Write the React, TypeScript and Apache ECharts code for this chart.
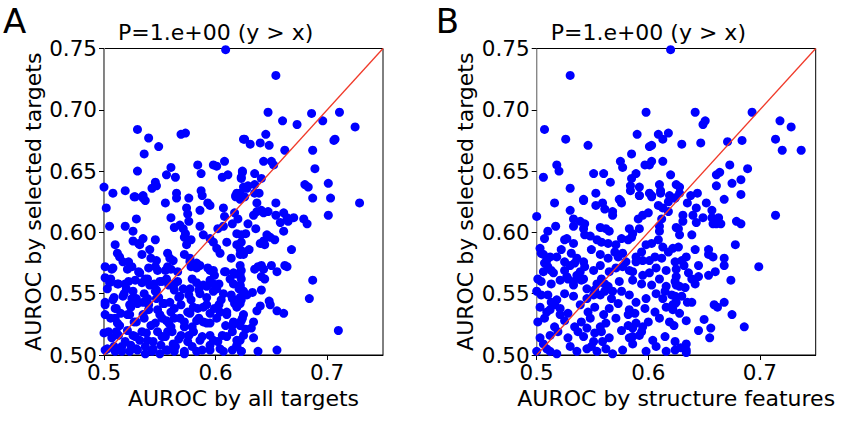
import React, { useEffect, useRef } from "react";
import * as echarts from "echarts";

// Panel A: AUROC by all targets (x) vs AUROC by selected targets (y)
const panelAUpper: number[][] = [
  [0.609, 0.749], [0.530, 0.684], [0.540, 0.677], [0.549, 0.670], [0.536, 0.664],
  [0.569, 0.680], [0.573, 0.681], [0.625, 0.676], [0.530, 0.650], [0.560, 0.653],
  [0.556, 0.647], [0.564, 0.645], [0.546, 0.641], [0.547, 0.638], [0.543, 0.636],
  [0.584, 0.655], [0.587, 0.648], [0.598, 0.655], [0.601, 0.654], [0.608, 0.658],
  [0.606, 0.645], [0.611, 0.647], [0.624, 0.649], [0.623, 0.644], [0.625, 0.637],
  [0.500, 0.637], [0.508, 0.632], [0.519, 0.634], [0.527, 0.629], [0.535, 0.630],
  [0.565, 0.632], [0.587, 0.634], [0.588, 0.630], [0.619, 0.632], [0.618, 0.630],
];
const panelAUpperRight: number[][] = [
  [0.654, 0.728], [0.647, 0.698], [0.686, 0.697], [0.711, 0.698], [0.660, 0.691],
  [0.673, 0.688], [0.696, 0.691], [0.725, 0.686], [0.626, 0.676], [0.631, 0.672],
  [0.645, 0.680], [0.640, 0.673], [0.648, 0.671], [0.662, 0.667], [0.687, 0.667],
  [0.706, 0.675], [0.707, 0.676], [0.643, 0.658], [0.650, 0.658], [0.652, 0.655],
  [0.689, 0.652], [0.624, 0.650], [0.623, 0.645], [0.635, 0.648], [0.641, 0.644],
  [0.629, 0.638], [0.628, 0.636], [0.635, 0.639], [0.635, 0.632], [0.639, 0.632],
  [0.680, 0.639], [0.683, 0.637], [0.701, 0.640], [0.687, 0.628], [0.703, 0.628],
  [0.622, 0.632], [0.626, 0.629],
];
const panelALowerRight: number[][] = [
  [0.729, 0.624], [0.654, 0.624], [0.637, 0.624], [0.634, 0.614], [0.637, 0.617],
  [0.641, 0.618], [0.643, 0.616], [0.647, 0.617], [0.654, 0.614], [0.661, 0.616],
  [0.664, 0.612], [0.665, 0.609], [0.658, 0.608], [0.670, 0.612], [0.679, 0.611],
  [0.682, 0.607], [0.701, 0.614], [0.629, 0.607], [0.636, 0.603], [0.661, 0.601],
  [0.623, 0.598], [0.627, 0.599], [0.646, 0.598], [0.649, 0.596], [0.653, 0.594],
  [0.640, 0.591], [0.644, 0.590], [0.643, 0.593], [0.668, 0.586], [0.630, 0.586],
  [0.625, 0.582], [0.622, 0.586], [0.635, 0.570], [0.638, 0.572], [0.641, 0.573],
  [0.643, 0.570], [0.650, 0.573], [0.655, 0.568], [0.662, 0.573], [0.664, 0.572],
  [0.622, 0.573], [0.623, 0.569], [0.641, 0.564], [0.644, 0.562], [0.623, 0.562],
  [0.687, 0.561], [0.622, 0.556], [0.623, 0.553], [0.625, 0.551], [0.628, 0.549],
  [0.633, 0.551], [0.641, 0.553], [0.684, 0.546], [0.622, 0.542], [0.648, 0.544],
  [0.649, 0.541], [0.640, 0.540], [0.637, 0.536], [0.655, 0.536], [0.661, 0.534],
  [0.625, 0.533], [0.634, 0.527], [0.623, 0.528], [0.627, 0.521], [0.632, 0.522],
  [0.710, 0.520], [0.634, 0.514], [0.623, 0.503], [0.638, 0.503], [0.655, 0.504],
];
const panelALowerLeft: number[][] = [
  [0.528, 0.629], [0.535, 0.628], [0.537, 0.626], [0.555, 0.624], [0.565, 0.628],
  [0.576, 0.628], [0.593, 0.624], [0.595, 0.622], [0.618, 0.629], [0.622, 0.627],
  [0.502, 0.620], [0.574, 0.620], [0.575, 0.615], [0.586, 0.618], [0.607, 0.620],
  [0.608, 0.613], [0.560, 0.612], [0.529, 0.611], [0.617, 0.616], [0.505, 0.605],
  [0.519, 0.605], [0.526, 0.601], [0.563, 0.604], [0.568, 0.606], [0.571, 0.603],
  [0.573, 0.599], [0.576, 0.609], [0.586, 0.605], [0.602, 0.603], [0.607, 0.605],
  [0.615, 0.607], [0.620, 0.611], [0.619, 0.599], [0.526, 0.593], [0.531, 0.591],
  [0.535, 0.595], [0.546, 0.594], [0.572, 0.596], [0.578, 0.594], [0.589, 0.598],
  [0.595, 0.595], [0.598, 0.592], [0.610, 0.592], [0.510, 0.590], [0.619, 0.590],
  [0.623, 0.592], [0.512, 0.583], [0.514, 0.580], [0.532, 0.590], [0.534, 0.582],
  [0.541, 0.586], [0.542, 0.579], [0.547, 0.577], [0.557, 0.583], [0.559, 0.579],
  [0.562, 0.577], [0.572, 0.582], [0.574, 0.590], [0.577, 0.579], [0.601, 0.587],
  [0.604, 0.583], [0.614, 0.579], [0.622, 0.582], [0.625, 0.584], [0.501, 0.572],
  [0.508, 0.571], [0.517, 0.576], [0.522, 0.576], [0.525, 0.572], [0.532, 0.567],
  [0.540, 0.571], [0.546, 0.572], [0.555, 0.569], [0.557, 0.572], [0.566, 0.568],
  [0.577, 0.576], [0.578, 0.572], [0.583, 0.575], [0.586, 0.573], [0.593, 0.571],
  [0.598, 0.569], [0.599, 0.565], [0.608, 0.568], [0.616, 0.567], [0.622, 0.565],
  [0.501, 0.563], [0.505, 0.559], [0.513, 0.558], [0.519, 0.558], [0.520, 0.554],
  [0.526, 0.552], [0.534, 0.559], [0.537, 0.562], [0.541, 0.557], [0.547, 0.553],
  [0.550, 0.560], [0.556, 0.562], [0.559, 0.558], [0.563, 0.558], [0.571, 0.554],
  [0.577, 0.554], [0.583, 0.559], [0.586, 0.550], [0.592, 0.556], [0.598, 0.558],
  [0.601, 0.554], [0.616, 0.558], [0.622, 0.557], [0.625, 0.552],
];
const panelABottom: number[][] = [
  [0.501, 0.543], [0.508, 0.545], [0.511, 0.538], [0.517, 0.548], [0.523, 0.541],
  [0.529, 0.546], [0.535, 0.543], [0.540, 0.537], [0.547, 0.546], [0.553, 0.542],
  [0.559, 0.543], [0.563, 0.538], [0.568, 0.548], [0.578, 0.545], [0.584, 0.538],
  [0.592, 0.541], [0.599, 0.538], [0.605, 0.545], [0.614, 0.549], [0.617, 0.542],
  [0.623, 0.545], [0.501, 0.533], [0.510, 0.530], [0.514, 0.524], [0.523, 0.533],
  [0.529, 0.527], [0.535, 0.533], [0.546, 0.526], [0.550, 0.533], [0.556, 0.528],
  [0.560, 0.523], [0.568, 0.530], [0.572, 0.523], [0.577, 0.534], [0.583, 0.528],
  [0.589, 0.527], [0.595, 0.526], [0.604, 0.535], [0.610, 0.533], [0.616, 0.527],
  [0.622, 0.524], [0.500, 0.518], [0.507, 0.514], [0.511, 0.519], [0.519, 0.511],
  [0.526, 0.516], [0.532, 0.512], [0.538, 0.518], [0.544, 0.511], [0.552, 0.515],
  [0.557, 0.519], [0.562, 0.509], [0.569, 0.516], [0.575, 0.511], [0.580, 0.519],
  [0.586, 0.512], [0.595, 0.516], [0.602, 0.511], [0.610, 0.515], [0.619, 0.512],
  [0.625, 0.516], [0.501, 0.504], [0.510, 0.503], [0.516, 0.507], [0.523, 0.503],
  [0.529, 0.505], [0.537, 0.501], [0.544, 0.505], [0.550, 0.501], [0.556, 0.504],
  [0.563, 0.503], [0.572, 0.501], [0.583, 0.503], [0.595, 0.504], [0.607, 0.503],
  [0.619, 0.507], [0.623, 0.503],
];
const panelABottomDense: number[][] = [
  [0.507, 0.570], [0.521, 0.570], [0.531, 0.568], [0.548, 0.569], [0.560, 0.570],
  [0.583, 0.571], [0.595, 0.569], [0.609, 0.568], [0.618, 0.566], [0.506, 0.562],
  [0.512, 0.558], [0.522, 0.560], [0.528, 0.561], [0.539, 0.562], [0.545, 0.558],
  [0.552, 0.560], [0.558, 0.557], [0.566, 0.560], [0.579, 0.562], [0.589, 0.557],
  [0.595, 0.561], [0.603, 0.558], [0.613, 0.562], [0.621, 0.554], [0.503, 0.554],
  [0.509, 0.547], [0.518, 0.550], [0.525, 0.546], [0.536, 0.550], [0.539, 0.546],
  [0.546, 0.552], [0.549, 0.547], [0.563, 0.553], [0.567, 0.547], [0.576, 0.549],
  [0.585, 0.553], [0.592, 0.547], [0.598, 0.552], [0.607, 0.550], [0.615, 0.546],
  [0.622, 0.547], [0.501, 0.541], [0.510, 0.538], [0.515, 0.534], [0.524, 0.539],
  [0.530, 0.542], [0.540, 0.541], [0.548, 0.537], [0.554, 0.542], [0.560, 0.535],
  [0.569, 0.541], [0.575, 0.535], [0.580, 0.539], [0.589, 0.539], [0.595, 0.534],
  [0.603, 0.541], [0.610, 0.535], [0.619, 0.539], [0.506, 0.530], [0.512, 0.526],
  [0.521, 0.533], [0.527, 0.527], [0.536, 0.530], [0.542, 0.524], [0.552, 0.530],
  [0.558, 0.526], [0.563, 0.530], [0.572, 0.527], [0.579, 0.523], [0.585, 0.530],
  [0.592, 0.526], [0.601, 0.530], [0.609, 0.524], [0.615, 0.524], [0.624, 0.530],
  [0.504, 0.519], [0.513, 0.516], [0.521, 0.520], [0.528, 0.515], [0.534, 0.519],
  [0.539, 0.512], [0.548, 0.519], [0.555, 0.515], [0.561, 0.519], [0.567, 0.513],
  [0.576, 0.516], [0.580, 0.519], [0.588, 0.515], [0.598, 0.512], [0.606, 0.516],
  [0.615, 0.519], [0.622, 0.512], [0.503, 0.505], [0.509, 0.507], [0.516, 0.503],
  [0.524, 0.508], [0.530, 0.504], [0.537, 0.507], [0.543, 0.503], [0.551, 0.508],
  [0.557, 0.504], [0.564, 0.507], [0.572, 0.503], [0.579, 0.507], [0.588, 0.504],
  [0.595, 0.508], [0.604, 0.505], [0.615, 0.504], [0.619, 0.508],
];

// Panel B: AUROC by structure features (x) vs AUROC by selected targets (y)
const panelBUpper: number[][] = [
  [0.620, 0.749], [0.530, 0.728], [0.598, 0.698], [0.507, 0.684], [0.526, 0.676],
  [0.546, 0.671], [0.590, 0.680], [0.609, 0.680], [0.613, 0.676], [0.618, 0.681],
  [0.601, 0.670], [0.603, 0.671], [0.585, 0.664], [0.575, 0.658], [0.577, 0.653],
  [0.597, 0.655], [0.601, 0.655], [0.603, 0.658], [0.613, 0.658], [0.518, 0.655],
  [0.520, 0.650], [0.506, 0.645], [0.530, 0.636], [0.551, 0.648], [0.560, 0.648],
  [0.566, 0.641], [0.553, 0.632], [0.542, 0.627], [0.574, 0.627], [0.585, 0.644],
  [0.589, 0.648], [0.584, 0.638], [0.584, 0.634], [0.592, 0.637], [0.592, 0.630],
  [0.601, 0.632], [0.603, 0.630], [0.610, 0.639], [0.611, 0.634], [0.611, 0.632],
  [0.620, 0.647], [0.625, 0.639], [0.619, 0.630], [0.624, 0.628], [0.499, 0.632],
];
const panelBUpperRight: number[][] = [
  [0.642, 0.698], [0.651, 0.691], [0.649, 0.688], [0.693, 0.698], [0.718, 0.691],
  [0.728, 0.686], [0.630, 0.672], [0.647, 0.673], [0.671, 0.674], [0.684, 0.675],
  [0.714, 0.676], [0.720, 0.667], [0.737, 0.667], [0.673, 0.655], [0.689, 0.652],
  [0.664, 0.649], [0.661, 0.647], [0.661, 0.638], [0.675, 0.640], [0.683, 0.643],
  [0.628, 0.637], [0.628, 0.632], [0.638, 0.630], [0.644, 0.632], [0.668, 0.627],
  [0.683, 0.631],
];
const panelBLowerRight: number[][] = [
  [0.714, 0.614], [0.635, 0.624], [0.652, 0.624], [0.643, 0.620], [0.657, 0.618],
  [0.631, 0.614], [0.631, 0.609], [0.640, 0.614], [0.643, 0.608], [0.649, 0.612],
  [0.657, 0.612], [0.658, 0.607], [0.661, 0.607], [0.663, 0.612], [0.665, 0.607],
  [0.679, 0.609], [0.683, 0.607], [0.627, 0.603], [0.628, 0.598], [0.639, 0.598],
  [0.678, 0.590], [0.627, 0.588], [0.642, 0.586], [0.654, 0.586], [0.654, 0.582],
  [0.658, 0.580], [0.668, 0.579], [0.668, 0.573], [0.699, 0.572], [0.634, 0.580],
  [0.630, 0.577], [0.632, 0.573], [0.625, 0.570], [0.645, 0.573], [0.636, 0.567],
  [0.625, 0.564], [0.639, 0.562], [0.645, 0.564], [0.642, 0.558], [0.654, 0.565],
  [0.660, 0.568], [0.674, 0.561], [0.625, 0.557], [0.633, 0.555], [0.628, 0.556],
  [0.624, 0.548], [0.630, 0.548], [0.624, 0.542], [0.635, 0.543], [0.639, 0.543],
  [0.659, 0.541], [0.662, 0.539], [0.668, 0.543], [0.675, 0.533], [0.628, 0.534],
  [0.650, 0.529], [0.634, 0.528], [0.623, 0.524], [0.686, 0.523], [0.656, 0.522],
  [0.645, 0.520], [0.655, 0.514], [0.634, 0.509], [0.629, 0.506], [0.634, 0.504],
  [0.624, 0.504], [0.634, 0.502],
];
const panelBLowerLeft: number[][] = [
  [0.516, 0.624], [0.542, 0.626], [0.553, 0.622], [0.559, 0.624], [0.561, 0.619],
  [0.575, 0.626], [0.576, 0.624], [0.592, 0.630], [0.603, 0.629], [0.609, 0.622],
  [0.613, 0.620], [0.618, 0.625], [0.624, 0.628], [0.500, 0.613], [0.530, 0.618],
  [0.533, 0.611], [0.539, 0.609], [0.543, 0.607], [0.568, 0.617], [0.568, 0.614],
  [0.591, 0.611], [0.595, 0.614], [0.600, 0.616], [0.612, 0.611], [0.618, 0.617],
  [0.533, 0.605], [0.510, 0.601], [0.517, 0.605], [0.527, 0.595], [0.542, 0.603],
  [0.543, 0.598], [0.557, 0.604], [0.562, 0.603], [0.565, 0.601], [0.583, 0.603],
  [0.586, 0.599], [0.592, 0.603], [0.610, 0.601], [0.610, 0.605], [0.625, 0.604],
  [0.503, 0.587], [0.507, 0.595], [0.525, 0.594], [0.533, 0.591], [0.548, 0.597],
  [0.554, 0.594], [0.558, 0.592], [0.564, 0.591], [0.571, 0.590], [0.576, 0.595],
  [0.582, 0.594], [0.585, 0.596], [0.598, 0.590], [0.603, 0.591], [0.609, 0.594],
  [0.613, 0.588], [0.622, 0.587], [0.506, 0.582], [0.509, 0.577], [0.518, 0.580],
  [0.522, 0.586], [0.531, 0.583], [0.536, 0.579], [0.542, 0.576], [0.549, 0.586],
  [0.557, 0.582], [0.564, 0.579], [0.570, 0.584], [0.577, 0.583], [0.589, 0.580],
  [0.595, 0.577], [0.606, 0.580], [0.612, 0.579], [0.618, 0.584], [0.501, 0.562],
  [0.510, 0.572], [0.515, 0.567], [0.525, 0.569], [0.530, 0.573], [0.536, 0.565],
  [0.543, 0.572], [0.551, 0.569], [0.557, 0.573], [0.565, 0.568], [0.571, 0.571],
  [0.577, 0.572], [0.583, 0.569], [0.589, 0.576], [0.595, 0.565], [0.601, 0.567],
  [0.607, 0.571], [0.616, 0.569], [0.624, 0.576],
];
const panelBBottom: number[][] = [
  [0.504, 0.560], [0.513, 0.558], [0.521, 0.561], [0.528, 0.562], [0.533, 0.557],
  [0.540, 0.561], [0.545, 0.554], [0.554, 0.558], [0.558, 0.562], [0.564, 0.556],
  [0.574, 0.560], [0.586, 0.561], [0.594, 0.558], [0.603, 0.557], [0.610, 0.562],
  [0.616, 0.556], [0.624, 0.560], [0.500, 0.552], [0.510, 0.549], [0.518, 0.545],
  [0.525, 0.550], [0.533, 0.548], [0.545, 0.546], [0.551, 0.549], [0.561, 0.552],
  [0.567, 0.546], [0.576, 0.552], [0.583, 0.549], [0.589, 0.543], [0.598, 0.546],
  [0.607, 0.550], [0.613, 0.546], [0.621, 0.549], [0.625, 0.543], [0.503, 0.539],
  [0.512, 0.537], [0.521, 0.538], [0.528, 0.534], [0.539, 0.541], [0.546, 0.535],
  [0.552, 0.539], [0.560, 0.533], [0.565, 0.538], [0.573, 0.542], [0.583, 0.537],
  [0.588, 0.534], [0.597, 0.538], [0.606, 0.535], [0.616, 0.539], [0.622, 0.537],
  [0.501, 0.527], [0.507, 0.530], [0.516, 0.523], [0.525, 0.528], [0.534, 0.523],
  [0.540, 0.527], [0.548, 0.530], [0.557, 0.523], [0.562, 0.526], [0.571, 0.530],
  [0.582, 0.524], [0.589, 0.526], [0.600, 0.527], [0.610, 0.530], [0.619, 0.527],
  [0.503, 0.514], [0.512, 0.516], [0.519, 0.519], [0.528, 0.514], [0.537, 0.519],
  [0.542, 0.515], [0.551, 0.511], [0.558, 0.519], [0.565, 0.514], [0.576, 0.520],
  [0.586, 0.515], [0.594, 0.519], [0.604, 0.512], [0.615, 0.515], [0.624, 0.511],
  [0.500, 0.503], [0.509, 0.505], [0.518, 0.501], [0.530, 0.507], [0.536, 0.503],
  [0.545, 0.505], [0.554, 0.503], [0.562, 0.505], [0.568, 0.501], [0.577, 0.504],
  [0.586, 0.509], [0.598, 0.503], [0.607, 0.507], [0.616, 0.503],
];
const panelBDense: number[][] = [
  [0.504, 0.583], [0.512, 0.580], [0.507, 0.575], [0.513, 0.569], [0.506, 0.568],
  [0.525, 0.576], [0.534, 0.575], [0.539, 0.568], [0.527, 0.564], [0.542, 0.562],
  [0.533, 0.560], [0.552, 0.553], [0.561, 0.558], [0.568, 0.552], [0.557, 0.549],
  [0.504, 0.549], [0.513, 0.543], [0.509, 0.535], [0.521, 0.533], [0.516, 0.541],
  [0.582, 0.533], [0.586, 0.522], [0.592, 0.516], [0.583, 0.514], [0.595, 0.523],
  [0.545, 0.522], [0.552, 0.518], [0.559, 0.511], [0.549, 0.507], [0.506, 0.509],
  [0.512, 0.503], [0.615, 0.552], [0.622, 0.541], [0.573, 0.580], [0.580, 0.576],
  [0.586, 0.568], [0.594, 0.584], [0.601, 0.577],
];

const panelAPoints = [
  ...panelAUpper, ...panelAUpperRight, ...panelALowerRight, ...panelALowerLeft,
  ...panelABottom, ...panelABottomDense,
];
const panelBPoints = [
  ...panelBUpper, ...panelBUpperRight, ...panelBLowerRight, ...panelBLowerLeft,
  ...panelBBottom, ...panelBDense,
];

const diagonal: number[][] = [[0.5, 0.5], [0.75, 0.75]];
const panelLetters = ["A", "B"];
const panelTitles = ["P=1.e+00 (y > x)", "P=1.e+00 (y > x)"];
const xNames = ["AUROC by all targets", "AUROC by structure features"];
const yName = "AUROC by selected targets";

const FONT = "DejaVu Sans";

export default function App() {
  const ref = useRef<HTMLDivElement>(null);
  useEffect(() => {
    if (!ref.current) return;
    const chart = echarts.init(ref.current, null, { renderer: "svg" });
    const gridLefts = [104, 536.7];
    const gridW = 279;
    const gridTop = 48.5;
    const gridH = 306.5;
    const tickStyle = { fontFamily: FONT, fontSize: 21.5, color: "#000" };
    const xAxes: any[] = [];
    const yAxes: any[] = [];
    const grids: any[] = [];
    const series: any[] = [];
    const titles: any[] = [];
    [0, 1].forEach((i) => {
      grids.push({
        left: gridLefts[i], top: gridTop, width: gridW, height: gridH,
        show: true, borderColor: "#000", borderWidth: 1, backgroundColor: "transparent",
      });
      xAxes.push({
        gridIndex: i, type: "value", min: 0.5, max: 0.75, interval: 0.1,
        name: xNames[i], nameLocation: "middle", nameGap: 28,
        nameTextStyle: { fontFamily: FONT, fontSize: 22, color: "#000" },
        axisLine: { show: true, onZero: false, lineStyle: { color: "#000", width: 1 } },
        axisTick: { show: true, length: 5, lineStyle: { color: "#000", width: 1 } },
        axisLabel: { ...tickStyle, margin: 6, showMaxLabel: false, formatter: (v: number) => v.toFixed(1) },
        splitLine: { show: false },
      });
      yAxes.push({
        gridIndex: i, type: "value", min: 0.5, max: 0.75, interval: 0.05,
        name: yName, nameLocation: "middle", nameGap: 60,
        nameTextStyle: { fontFamily: FONT, fontSize: 22, color: "#000" },
        axisLine: { show: true, onZero: false, lineStyle: { color: "#888", width: 1 } },
        axisTick: { show: true, length: 5, lineStyle: { color: "#000", width: 1 } },
        axisLabel: { ...tickStyle, margin: 7, formatter: (v: number) => v.toFixed(2) },
        splitLine: { show: false },
      });
      series.push({
        type: "scatter", xAxisIndex: i, yAxisIndex: i,
        data: i === 0 ? panelAPoints : panelBPoints,
        symbol: "circle", symbolSize: 9, clip: true,
        itemStyle: { color: "#0000ff", opacity: 1 },
        z: 2,
      });
      series.push({
        type: "line", xAxisIndex: i, yAxisIndex: i, data: diagonal,
        symbol: "none", clip: true,
        lineStyle: { color: "#f03a2a", width: 1.3 },
        z: 3,
      });
      titles.push({
        text: panelLetters[i], left: 3 + gridLefts[i] - 104, top: 4, padding: 0,
        textStyle: { fontFamily: FONT, fontSize: 34, fontWeight: "normal", color: "#000" },
      });
      titles.push({
        text: panelTitles[i], left: 118 + gridLefts[i] - 104, top: 21.5, padding: 0,
        textStyle: { fontFamily: FONT, fontSize: 22, fontWeight: "normal", color: "#000" },
      });
    });
    chart.setOption({
      animation: false,
      backgroundColor: "#fff",
      title: titles,
      grid: grids,
      xAxis: xAxes,
      yAxis: yAxes,
      series,
    });
    return () => chart.dispose();
  }, []);
  return (
    <div
      ref={ref}
      style={{ position: "fixed", left: 0, top: 0, width: 864, height: 432 }}
    />
  );
}
